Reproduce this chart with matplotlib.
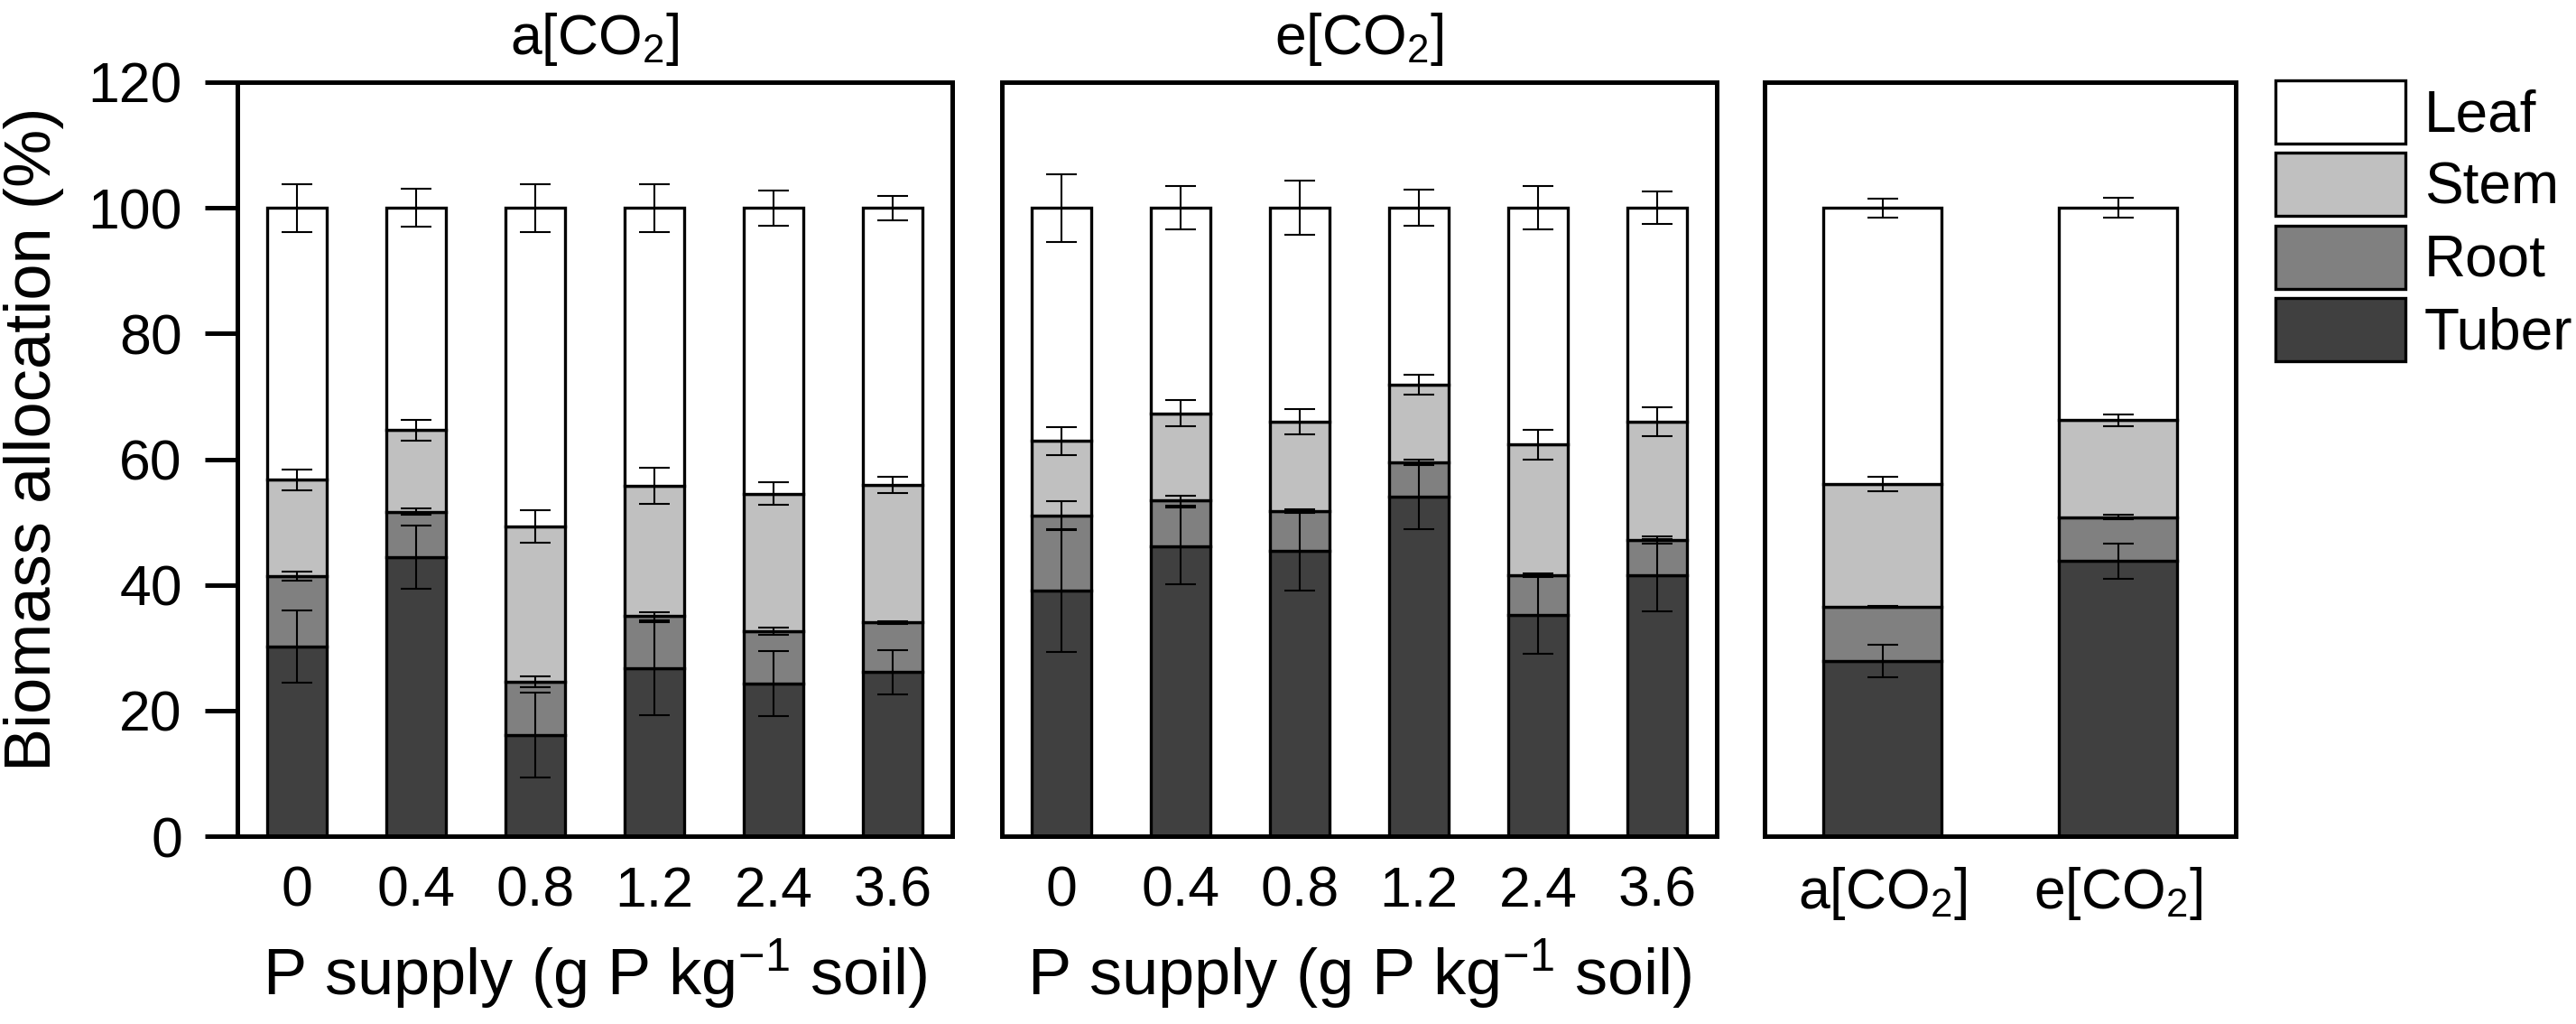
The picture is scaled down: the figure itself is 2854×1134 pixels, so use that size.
import numpy as np
import matplotlib.pyplot as plt
from matplotlib.patches import Patch

plt.rcParams['font.family'] = ['Liberation Sans', 'DejaVu Sans']
plt.rcParams['mathtext.fontset'] = 'custom'
plt.rcParams['mathtext.rm'] = 'Liberation Sans'
plt.rcParams['mathtext.it'] = 'Liberation Sans:italic'
plt.rcParams['mathtext.bf'] = 'Liberation Sans:bold'

# Data (% of total biomass), stacked bottom to top: tuber, root, stem, leaf
p_levels = ['0', '0.4', '0.8', '1.2', '2.4', '3.6']
co2_labels = [r'a[CO$_2$]', r'e[CO$_2$]']
organs = ['Tuber', 'Root', 'Stem', 'Leaf']
colors = ['#404040', '#808080', '#c0c0c0', '#ffffff']

# ambient CO2
a_tuber = [30.2, 44.4, 16.1, 26.7, 24.3, 26.1]
a_root = [11.2, 7.2, 8.5, 8.3, 8.3, 7.9]
a_stem = [15.3, 13.0, 24.7, 20.8, 21.9, 21.9]
a_leaf = [43.3, 35.4, 50.7, 44.2, 45.5, 44.1]
a_tuber_se = [5.7, 5.05, 6.8, 7.4, 5.2, 3.55]
a_root_se = [0.7, 0.5, 0.9, 0.6, 0.6, 0.2]
a_stem_se = [1.6, 1.65, 2.65, 2.9, 1.8, 1.25]
a_leaf_se = [3.8, 3.0, 3.8, 3.8, 2.8, 1.95]

# elevated CO2
e_tuber = [39.1, 46.2, 45.4, 54.0, 35.2, 41.6]
e_root = [11.9, 7.2, 6.3, 5.5, 6.3, 5.5]
e_stem = [11.9, 13.9, 14.3, 12.4, 20.8, 18.8]
e_leaf = [37.1, 32.7, 34.0, 28.1, 37.7, 34.1]
e_tuber_se = [9.8, 6.1, 6.3, 5.2, 6.2, 5.75]
e_root_se = [2.3, 0.8, 0.3, 0.5, 0.3, 0.6]
e_stem_se = [2.25, 2.05, 2.0, 1.6, 2.35, 2.3]
e_leaf_se = [5.4, 3.45, 4.3, 2.9, 3.45, 2.6]

# means across P levels
m_tuber = [27.9, 43.8]
m_root = [8.6, 7.0]
m_stem = [19.6, 15.4]
m_leaf = [43.9, 33.8]
m_tuber_se = [2.6, 2.8]
m_root_se = [0.2, 0.3]
m_stem_se = [1.15, 0.95]
m_leaf_se = [1.5, 1.55]

W, H = 2854, 1134
fig = plt.figure(figsize=(W / 100, H / 100), dpi=100)

bot = 1 - 926 / H
hgt = (926 - 91) / H
ax1 = fig.add_axes([263 / W, bot, 792 / W, hgt])
ax2 = fig.add_axes([1110 / W, bot, 792 / W, hgt])
ax3 = fig.add_axes([1955 / W, bot, 522 / W, hgt])

SPINE_LW = 3.6
BAR_LW = 2.4
TICK_FS = 45
LABEL_FS = 52


def stacked(ax, labels, parts, errs):
    x = np.arange(len(labels))
    bottom = np.zeros(len(labels))
    tops = []
    for vals, c in zip(parts, colors):
        vals = np.array(vals)
        ax.bar(x, vals, 0.5, bottom=bottom, color=c, edgecolor='k',
               linewidth=BAR_LW, zorder=2)
        bottom = bottom + vals
        tops.append(bottom.copy())
    for top, se in zip(tops, errs):
        ax.errorbar(x, top, yerr=se, fmt='none', ecolor='k', elinewidth=1.5,
                    capsize=12, capthick=1.5, zorder=3)
    ax.set_xticks(x)
    ax.set_xticklabels(labels)
    ax.set_xlim(-0.5, len(labels) - 0.5)
    ax.set_ylim(0, 120)
    for s in ax.spines.values():
        s.set_linewidth(SPINE_LW)
    ax.tick_params(axis='x', length=0, pad=23, labelsize=TICK_FS)
    ax.tick_params(axis='y', length=26, width=SPINE_LW, pad=18,
                   labelsize=TICK_FS)


stacked(ax1, p_levels, [a_tuber, a_root, a_stem, a_leaf],
        [a_tuber_se, a_root_se, a_stem_se, a_leaf_se])
stacked(ax2, p_levels, [e_tuber, e_root, e_stem, e_leaf],
        [e_tuber_se, e_root_se, e_stem_se, e_leaf_se])
stacked(ax3, co2_labels, [m_tuber, m_root, m_stem, m_leaf],
        [m_tuber_se, m_root_se, m_stem_se, m_leaf_se])

ax1.set_yticks(np.arange(0, 121, 20))
ax1.set_ylabel('Biomass allocation (%)', fontsize=LABEL_FS)
ax1.yaxis.set_label_coords(-0.2424, 0.527)
for ax in (ax2, ax3):
    ax.tick_params(axis='y', left=False, labelleft=False)

xlab = r'P supply (g P kg$^{\mathregular{-1}}$ soil)'
ax1.set_xlabel(xlab, fontsize=LABEL_FS, labelpad=15)
ax2.set_xlabel(xlab, fontsize=LABEL_FS, labelpad=15)
ax1.set_title(co2_labels[0], fontsize=TICK_FS, pad=22)
ax2.set_title(co2_labels[1], fontsize=TICK_FS, pad=22)

handles = [Patch(facecolor=c, edgecolor='k', linewidth=BAR_LW)
           for c in colors]
fig.legend(handles[::-1], organs[::-1], loc='upper left',
           bbox_to_anchor=(2521 / W, 1 - 89 / H), frameon=False,
           fontsize=46, borderpad=0, borderaxespad=0,
           handlelength=2.25, handleheight=1.31, handletextpad=0.33,
           labelspacing=0.16)

fig.savefig('out.png', dpi=100)
